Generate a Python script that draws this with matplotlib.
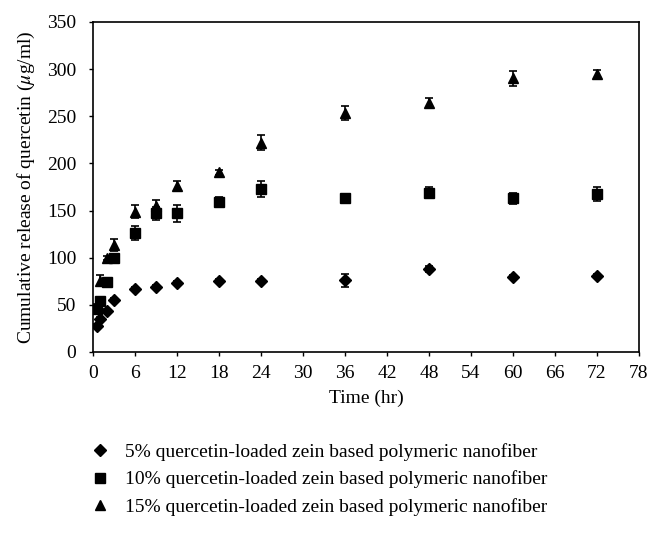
import matplotlib
matplotlib.use('Agg')
import matplotlib.pyplot as plt
from matplotlib.lines import Line2D

# 数据：时间(hr)和累计释放量
time = [0.5, 1, 2, 3, 6, 9, 12, 18, 24, 36, 48, 60, 72]
rel_5 = [27.6, 35, 44, 55, 67, 69, 73, 75.5, 75.5, 76, 88, 79.5, 80.5]
err_5 = [2, 2, 2, 2, 2, 2, 2, 2, 2, 7, 3, 2, 2]
rel_10 = [45.5, 54.5, 74, 100, 126, 147, 147, 159, 172.5, 163, 169, 163, 167.5]
err_10 = [3, 3, 3, 4, 7.5, 7, 9, 5, 8.5, 5, 6, 6, 7]
rel_15 = [48, 75.5, 100, 113.5, 149, 155, 176, 190.5, 222, 253.5, 264, 290.5, 295]
err_15 = [3, 6, 2, 6, 7, 6, 5.3, 3, 8, 7, 5, 8, 4]

labels = ['5% quercetin-loaded zein based polymeric nanofiber',
          '10% quercetin-loaded zein based polymeric nanofiber',
          '15% quercetin-loaded zein based polymeric nanofiber']
xticks = list(range(0, 79, 6))
yticks = list(range(0, 351, 50))

plt.rcParams['font.family'] = ['Liberation Serif', 'DejaVu Serif']
plt.rcParams['mathtext.fontset'] = 'stix'
fs = 14

fig = plt.figure(figsize=(6.62, 5.34), dpi=100)
ax = fig.add_axes([93 / 662, 1 - 352 / 534, (639 - 93) / 662, (352 - 22) / 534])

kw = dict(linestyle='none', color='black', ecolor='black', elinewidth=1.2,
          capsize=3, capthick=1.2)
ax.errorbar(time, rel_15, yerr=err_15, marker='^', markersize=7, **kw)
ax.errorbar(time, rel_10, yerr=err_10, marker='s', markersize=7, **kw)
ax.errorbar(time, rel_5, yerr=err_5, marker='D', markersize=6, **kw)

ax.set_xlim(0, 78)
ax.set_ylim(0, 350)
ax.set_xticks(xticks)
ax.set_yticks(yticks)
ax.tick_params(direction='out', length=3, width=1, labelsize=fs)
ax.tick_params(axis='y', pad=9)
ax.tick_params(axis='x', pad=6)
for s in ax.spines.values():
    s.set_linewidth(1.2)
ax.set_xlabel('Time (hr)', fontsize=fs, labelpad=6)
ax.set_ylabel(r'Cumulative release of quercetin ($\mu$g/ml)', fontsize=fs, labelpad=7)

# 图例放在图下面
handles = [Line2D([], [], linestyle='none', marker='D', markersize=6, color='black'),
           Line2D([], [], linestyle='none', marker='s', markersize=7, color='black'),
           Line2D([], [], linestyle='none', marker='^', markersize=7, color='black')]
fig.legend(handles, labels, loc='upper left', bbox_to_anchor=(88 / 662, 1 - 443 / 534),
           frameon=False, fontsize=fs, handlelength=1.2, handletextpad=0.7,
           labelspacing=0.5, borderaxespad=0, borderpad=0)

fig.savefig('out.png', dpi=100)
